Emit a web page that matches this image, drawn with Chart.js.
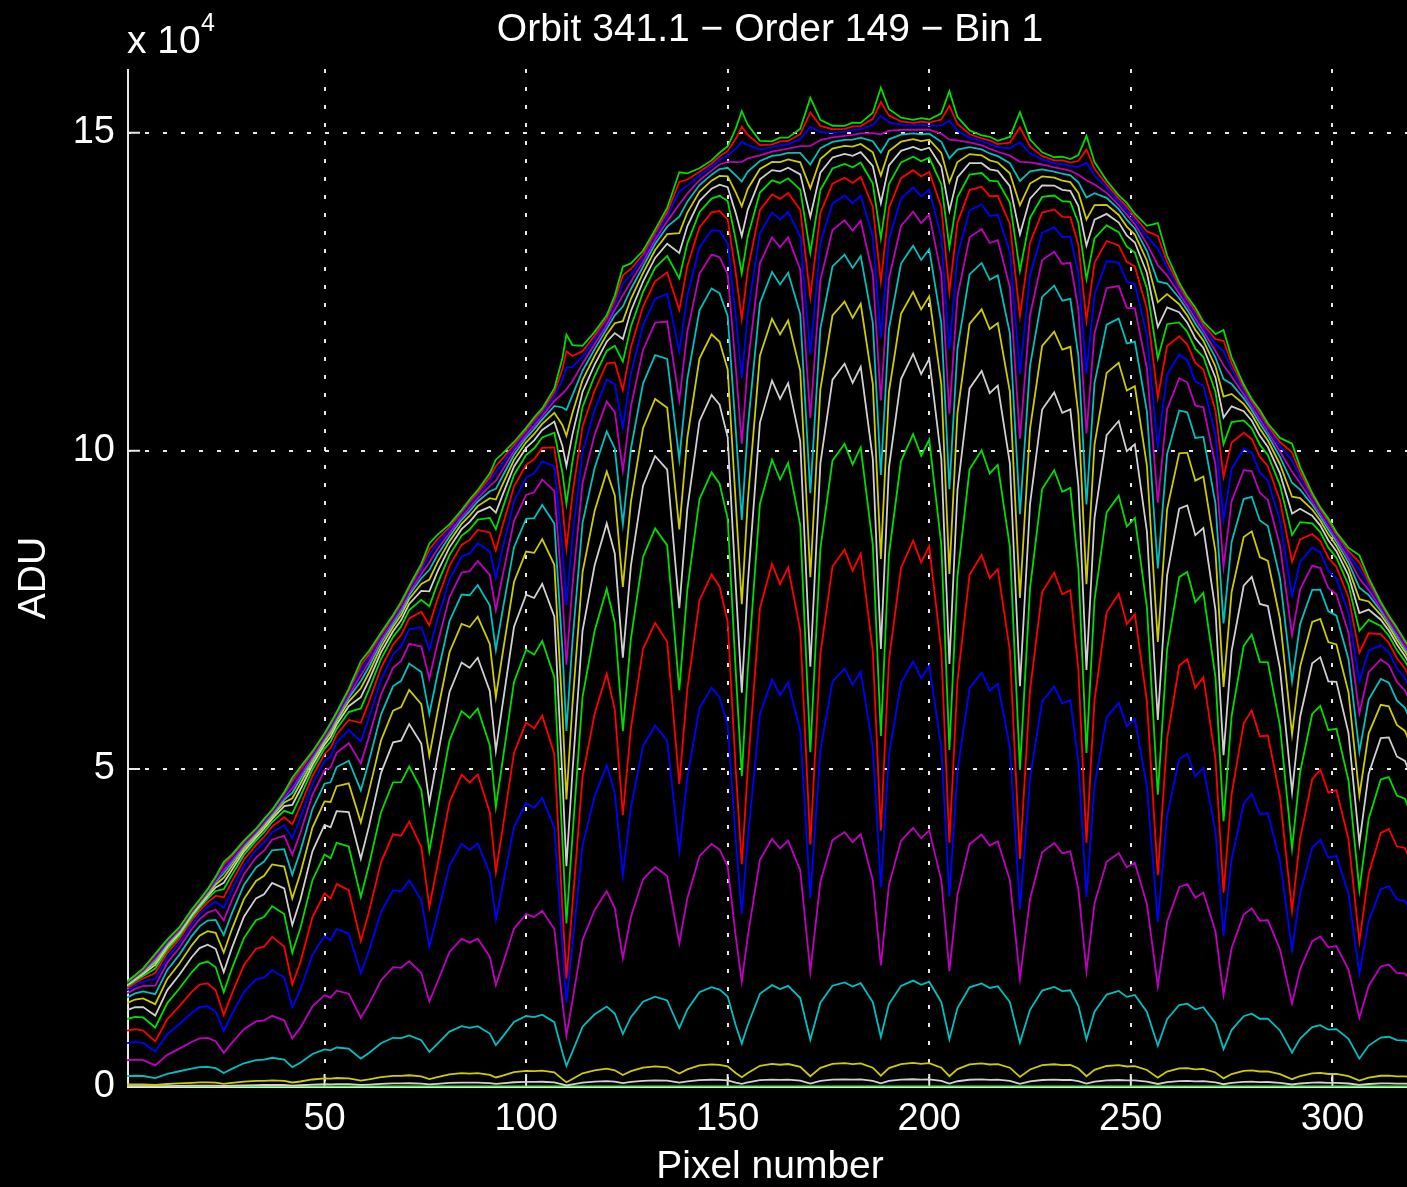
<!DOCTYPE html>
<html>
<head>
<meta charset="utf-8">
<title>Orbit 341.1 - Order 149 - Bin 1</title>
<script src="https://cdn.jsdelivr.net/npm/chart.js@4.4.1/dist/chart.umd.min.js"></script>
<style>
  html, body { margin: 0; padding: 0; background: #000; overflow: hidden; }
  #wrap { width: 1407px; height: 1187px; overflow: hidden; }
</style>
</head>
<body>
<div id="wrap"><canvas id="spectrumChart" width="1413" height="1187"></canvas></div>
<script>
const pixelPos = [
    1, 3, 5, 8, 11, 14, 17, 19, 21, 23, 25, 27, 30, 33, 35, 37, 40, 42, 44, 47,
    50, 51.5, 53, 56, 59, 61, 64, 67, 69, 71, 74, 76, 78, 81, 84, 86, 88, 91, 92.5, 94,
    97, 100, 102, 104, 107, 109, 110, 111.5, 114, 117, 120, 122, 124, 126, 129, 132, 135, 138, 140, 143,
    146, 148, 150, 152, 153.5, 155, 158, 161, 163, 165, 168, 170.5, 173, 176, 179, 181, 183, 186, 188, 190,
    193, 196, 198, 200, 203, 205, 207, 210, 213, 215, 217, 220, 222.5, 225, 228, 231, 233, 235, 237, 239,
    241, 244, 247, 249, 251, 254, 256.7, 259, 262, 264, 266, 268, 271, 273, 275, 278, 280, 282, 284, 287,
    290, 292, 295, 297, 299, 301, 304, 306.7, 309, 312, 314, 316, 318, 320
];

// continuum of the top curve (x 10^4 ADU)
const envelope = [
    1.65, 1.75, 1.85, 2.05, 2.3, 2.5, 2.78, 2.94, 3.1, 3.28, 3.45, 3.6, 3.85, 4.05, 4.2, 4.35, 4.6, 4.75, 4.95, 5.25,
    5.55, 5.7, 5.88, 6.22, 6.55, 6.75, 7.1, 7.4, 7.6, 7.85, 8.15, 8.35, 8.55, 8.8, 9.05, 9.2, 9.35, 9.55, 9.65, 9.8,
    10.1, 10.35, 10.5, 10.65, 10.9, 11.05, 11.15, 11.25, 11.5, 11.8, 12.1, 12.35, 12.6, 12.8, 13.1, 13.45, 13.75, 14.05, 14.2, 14.4,
    14.55, 14.65, 14.7, 14.72, 14.75, 14.78, 14.8, 14.85, 14.88, 14.9, 14.95, 15.0, 15.05, 15.08, 15.1, 15.12, 15.14, 15.16, 15.18, 15.2,
    15.2, 15.2, 15.2, 15.2, 15.15, 15.1, 15.05, 15.0, 14.95, 14.9, 14.85, 14.8, 14.75, 14.7, 14.65, 14.6, 14.58, 14.55, 14.5, 14.45,
    14.35, 14.2, 14.0, 13.85, 13.7, 13.4, 13.1, 12.9, 12.6, 12.4, 12.2, 12.0, 11.7, 11.5, 11.3, 11.0, 10.8, 10.6, 10.4, 10.1,
    9.8, 9.6, 9.3, 9.1, 8.9, 8.7, 8.4, 8.1, 7.9, 7.6, 7.4, 7.2, 7.0, 6.8
];

// relative transmission read from the unsaturated (blue) curve
const transmission = [
    0.95, 0.92, 0.85, 0.62, 0.82, 0.9, 0.95, 0.97, 0.93, 0.82, 0.58, 0.72, 0.88, 0.95, 0.93, 0.96, 0.85, 0.6, 0.7, 0.9,
    0.97, 0.92, 0.96, 0.88, 0.62, 0.72, 0.88, 0.95, 0.92, 0.94, 0.82, 0.6, 0.72, 0.9, 0.96, 0.92, 0.93, 0.8, 0.62, 0.72,
    0.92, 0.98, 0.95, 0.97, 0.85, 0.45, 0.27, 0.45, 0.75, 0.88, 0.95, 0.85, 0.6, 0.78, 0.93, 0.96, 0.9, 0.6, 0.78, 0.94,
    0.98, 0.95, 0.88, 0.6, 0.42, 0.6, 0.9, 0.98, 0.94, 0.97, 0.85, 0.45, 0.8, 0.96, 0.99, 0.95, 0.98, 0.8, 0.47, 0.78,
    0.95, 1.0, 0.96, 0.99, 0.8, 0.45, 0.75, 0.95, 0.99, 0.95, 0.97, 0.82, 0.43, 0.75, 0.94, 0.98, 0.94, 0.95, 0.8, 0.47,
    0.75, 0.93, 0.98, 0.93, 0.96, 0.8, 0.45, 0.75, 0.93, 0.96, 0.91, 0.95, 0.78, 0.47, 0.72, 0.92, 0.97, 0.92, 0.94, 0.8,
    0.5, 0.72, 0.92, 0.97, 0.92, 0.95, 0.82, 0.5, 0.75, 0.93, 0.97, 0.93, 0.95, 0.9
];

// one entry per curve, bottom to top: level (fraction of continuum) and line depth exponent
const seriesLevel = [0, 0.008, 0.025, 0.11, 0.268, 0.44, 0.565, 0.675, 0.758, 0.822, 0.87, 0.905, 0.93,
    0.948, 0.962, 0.972, 0.98, 0.986, 0.99, 0.994, 0.997, 1.0];
const seriesDepth = [1, 1, 1, 1, 1, 1, 1, 0.82, 0.68, 0.54, 0.42, 0.32, 0.24,
    0.17, 0.12, 0.08, 0.05, 0.025, 0.005, -0.015, -0.03, -0.045];
const colorCycle = ['#00dd00', '#d0d0d0', '#cccc00', '#00c0c0', '#c000c0', '#0000ff', '#ff0000'];

const xTicks = [50, 100, 150, 200, 250, 300];
const yTicks = [0, 50000, 100000, 150000];

const FONT = '"Liberation Sans", Arial, sans-serif';

const datasets = seriesLevel.map((lvl, k) => ({
    data: pixelPos.map((p, i) => ({
        x: p,
        y: lvl * envelope[i] * Math.pow(transmission[i], seriesDepth[k]) * 1e4,
    })),
    borderColor: k === 0 ? '#33ff33' : colorCycle[k % colorCycle.length],
    borderWidth: k === 0 ? 3 : 1.8,
    pointRadius: 0,
    tension: 0,
    order: seriesLevel.length - k,
}));

// axes lines, inward ticks and texts like the matlab figure
const axesDecor = {
    id: 'axesDecor',
    beforeDatasetsDraw(chart) {
        const { ctx, chartArea: a, scales } = chart;
        ctx.save();
        ctx.strokeStyle = '#e8e8e8';
        ctx.lineWidth = 2;
        ctx.beginPath();
        ctx.moveTo(a.left + 1, a.top);
        ctx.lineTo(a.left + 1, a.bottom);
        ctx.moveTo(a.left, a.bottom);
        ctx.lineTo(a.right, a.bottom);
        xTicks.forEach(v => {
            const x = scales.x.getPixelForValue(v);
            ctx.moveTo(x, a.bottom);
            ctx.lineTo(x, a.bottom - 13);
        });
        yTicks.forEach(v => {
            const y = scales.y.getPixelForValue(v);
            ctx.moveTo(a.left, y);
            ctx.lineTo(a.left + 13, y);
        });
        ctx.stroke();
        ctx.restore();
    },
    afterDraw(chart) {
        const { ctx, chartArea: a } = chart;
        ctx.save();
        ctx.fillStyle = '#ffffff';
        ctx.textBaseline = 'alphabetic';
        ctx.font = `39px ${FONT}`;
        ctx.textAlign = 'center';
        ctx.fillText('Orbit 341.1 \u2212 Order 149 \u2212 Bin 1', (a.left + a.right) / 2, 41);
        ctx.fillText('Pixel number', (a.left + a.right) / 2, 1178);
        ctx.textAlign = 'left';
        ctx.fillText('x 10', 127, 53);
        ctx.font = `25px ${FONT}`;
        ctx.fillText('4', 201, 31);
        ctx.font = `39px ${FONT}`;
        ctx.translate(45, (a.top + a.bottom) / 2);
        ctx.rotate(-Math.PI / 2);
        ctx.textAlign = 'center';
        ctx.fillText('ADU', 0, 0);
        ctx.restore();
    },
};

const gridColor = (c) => (c.tick && c.tick.value === 0 ? 'rgba(0,0,0,0)' : '#e8e8e8');

new Chart(document.getElementById('spectrumChart').getContext('2d'), {
    type: 'line',
    data: { datasets },
    options: {
        responsive: false,
        animation: false,
        devicePixelRatio: 1,
        layout: { padding: { top: 69, left: 0, right: 0, bottom: 0 } },
        plugins: { legend: { display: false }, tooltip: { enabled: false }, title: { display: false } },
        scales: {
            x: {
                type: 'linear',
                min: 1,
                max: 320,
                afterBuildTicks: (s) => { s.ticks = xTicks.map(v => ({ value: v })); },
                afterFit: (s) => { s.height = 100; },
                grid: { color: gridColor, lineWidth: 2, drawTicks: false },
                border: { display: false, dash: [4, 14] },
                ticks: { color: '#ffffff', font: { family: FONT, size: 38 }, padding: 10, maxRotation: 0, autoSkip: false },
            },
            y: {
                type: 'linear',
                min: 0,
                max: 160000,
                afterBuildTicks: (s) => { s.ticks = yTicks.map(v => ({ value: v })); },
                afterFit: (s) => { s.width = 127; },
                grid: { color: gridColor, lineWidth: 2, drawTicks: false },
                border: { display: false, dash: [4, 14] },
                ticks: {
                    color: '#ffffff',
                    font: { family: FONT, size: 38 },
                    padding: 12,
                    callback: (v) => v / 1e4,
                },
            },
        },
    },
    plugins: [axesDecor],
});
</script>
</body>
</html>
